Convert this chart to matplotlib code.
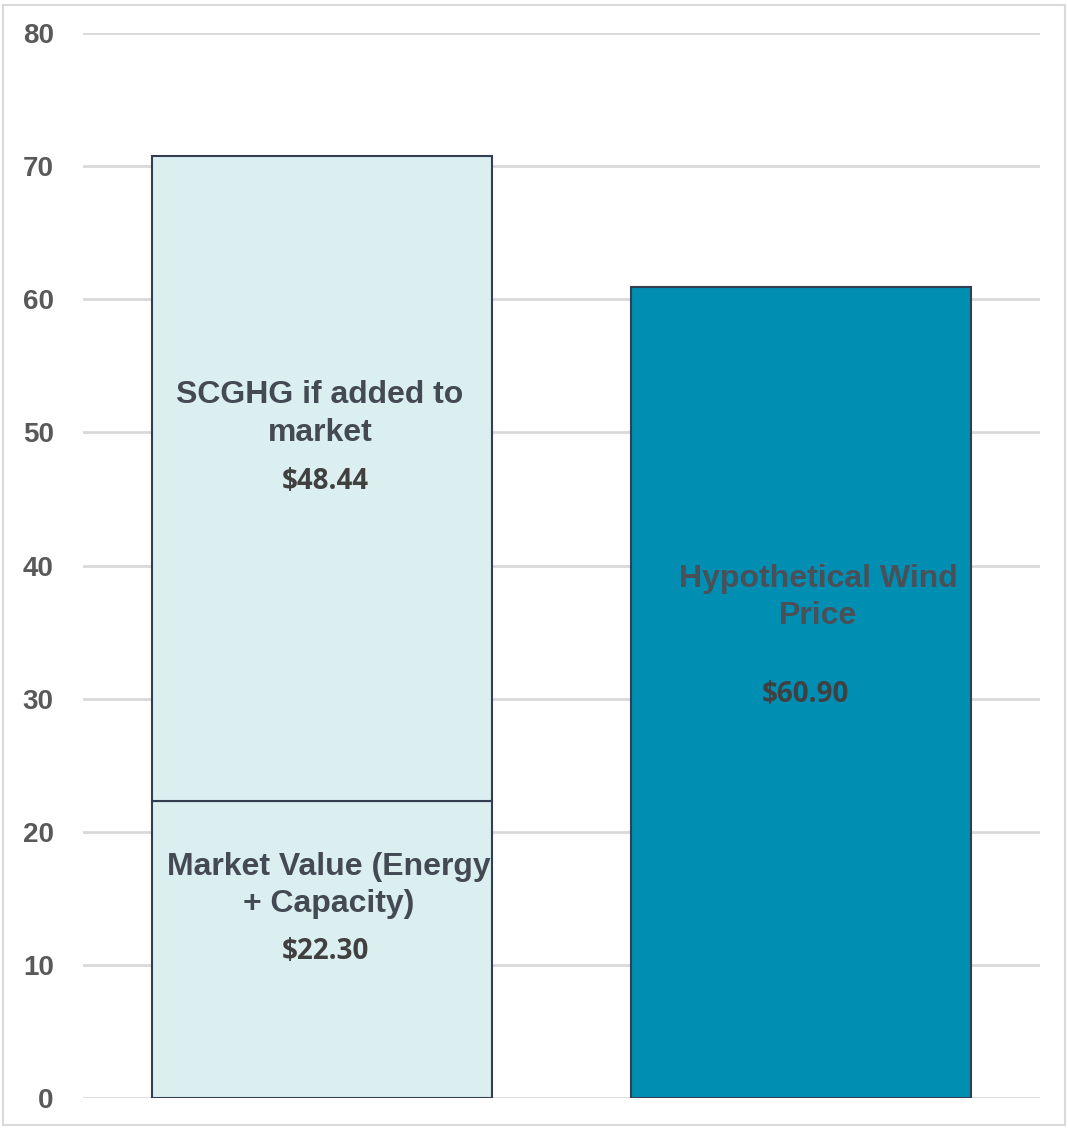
import matplotlib
matplotlib.use("Agg")
import matplotlib.pyplot as plt
from matplotlib.patches import Rectangle

# Data
categories = ["Market + SCGHG", "Wind"]
market_value = [22.30, 0.0]
scghg = [48.44, 0.0]
wind_price = [0.0, 60.90]
y_ticks = [0, 10, 20, 30, 40, 50, 60, 70, 80]
seg_labels = ["Market Value (Energy\n+ Capacity)", "SCGHG if added to\nmarket", "Hypothetical Wind\nPrice"]

fig = plt.figure(figsize=(10.68, 11.28), dpi=100)
ax = fig.add_axes([83/1068, 1 - 1098/1128, (1040-83)/1068, (1098-33)/1128])

x = list(range(len(categories)))
edge = "#333F50"
w = 0.71
ax.bar(x[0], market_value[0], width=w, color="#DBEFF1", edgecolor=edge, linewidth=1.5, zorder=3)
ax.bar(x[0], scghg[0], bottom=market_value[0], width=w, color="#DBEFF1", edgecolor=edge, linewidth=1.5, zorder=3)
ax.bar(x[1], wind_price[1], width=w, color="#008EB3", edgecolor=edge, linewidth=1.5, zorder=3)

ax.set_xlim(-0.5, 1.5)
ax.set_ylim(0, 80)
ax.set_yticks(y_ticks)
ax.set_xticks([])
ax.grid(axis="y", color="#D9D9D9", linewidth=2, zorder=0)
for s in ax.spines.values():
    s.set_visible(False)
ax.tick_params(axis="y", length=0, pad=21)
for lab in ax.get_yticklabels():
    lab.set_fontfamily("Liberation Sans")
    lab.set_fontweight("bold")
    lab.set_fontsize(20)
    lab.set_color("#595959")

lab_font = dict(family="Liberation Sans", fontweight="bold", fontsize=23, ha="center", va="center", linespacing=1.33)
val_font = dict(family="Open Sans", fontweight="bold", fontsize=20, ha="center", va="center", color="#404040")

ax.text(x[0] + 0.014, 15.95, seg_labels[0], color="#444A53", **lab_font)
ax.text(x[0] + 0.007, 11.0, f"${market_value[0]:.2f}", **val_font)
ax.text(x[0] - 0.005, 51.4, seg_labels[1], color="#444A53", **lab_font)
ax.text(x[0] + 0.007, 46.3, f"${scghg[0]:.2f}", **val_font)
ax.text(x[1] + 0.037, 37.6, seg_labels[2], color="#4A5058", **lab_font)
ax.text(x[1] + 0.009, 30.3, f"${wind_price[1]:.2f}", **val_font)

fig.patches.append(Rectangle((3/1068, 3/1128), 1062/1068, 1120/1128, transform=fig.transFigure,
                             fill=False, edgecolor="#D9D9D9", linewidth=1.5))

fig.savefig("out.png", dpi=100)
